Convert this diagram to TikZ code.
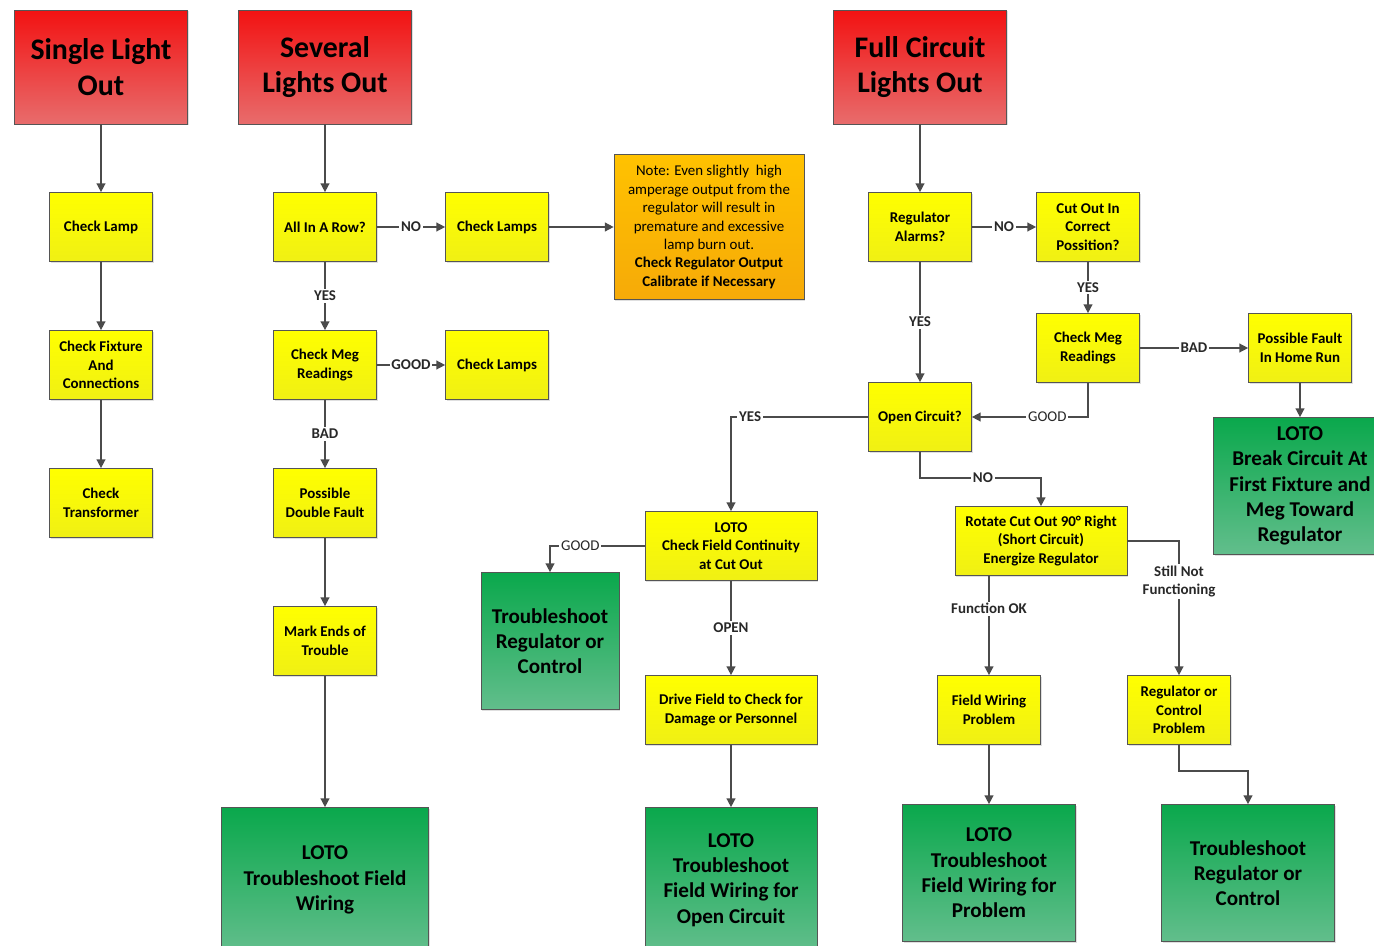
\documentclass[tikz,border=0pt]{standalone}
\usepackage{fontspec}
\setmainfont{Carlito}
\usetikzlibrary{arrows.meta,shadows}

\definecolor{redtop}{RGB}{242,18,18}
\definecolor{redbot}{RGB}{232,108,108}
\definecolor{yeltop}{RGB}{255,255,0}
\definecolor{yelbot}{RGB}{240,240,20}
\definecolor{grntop}{RGB}{10,168,76}
\definecolor{grnbot}{RGB}{98,190,140}
\definecolor{ortop}{RGB}{255,194,0}
\definecolor{orbot}{RGB}{246,170,8}
\definecolor{boxline}{RGB}{85,85,85}
\definecolor{linecol}{RGB}{75,75,75}
\definecolor{lbltext}{RGB}{40,40,40}

\tikzset{
    box/.style={draw=boxline, rectangle, align=center, inner sep=2pt,
        drop shadow={opacity=0.25, shadow xshift=0.7pt, shadow yshift=-0.7pt}},
    rbox/.style={box, top color=redtop, bottom color=redbot, minimum width=3.46cm, minimum height=2.28cm,
        font=\fontsize{17}{20.4}\selectfont\bfseries},
    ybox/.style={box, top color=yeltop, bottom color=yelbot, minimum width=2.06cm, minimum height=1.38cm,
        font=\fontsize{8.5}{10.5}\selectfont\bfseries},
    ywide/.style={ybox, minimum width=3.44cm},
    gbox/.style={box, top color=grntop, bottom color=grnbot, minimum width=3.46cm, minimum height=2.74cm,
        font=\fontsize{12}{14.4}\selectfont\bfseries},
    notebox/.style={box, top color=ortop, bottom color=orbot, minimum width=3.8cm, minimum height=2.9cm,
        font=\fontsize{8.5}{10.5}\selectfont},
    lbl/.style={fill=white, inner sep=1pt, text=lbltext, font=\fontsize{8.5}{10.5}\selectfont\bfseries},
    lblthin/.style={lbl, font=\fontsize{8.5}{10.5}\selectfont},
    arr/.style={draw=linecol, line width=0.85pt, -{Triangle[length=5pt,width=5pt]}},
}

\begin{document}
                \begin{tikzpicture}[x=0.02cm, y=-0.02cm]
                    \useasboundingbox (0,0) rectangle (1374,946);
                    \clip (0,0) rectangle (1374,946);
                    \fill[white] (0,0) rectangle (1374,946);

                    \node[rbox] (single) at (101,67) {Single Light\\Out};
                    \node[rbox] (several) at (325,67) {Several\\Lights Out};
                    \node[rbox] (full) at (920,67) {Full Circuit\\Lights Out};

                    \node[ybox] (lamp) at (101,227) {Check Lamp};
                    \node[ybox] (fixture) at (101,365) {Check Fixture\\And\\Connections};
                    \node[ybox] (transf) at (101,503) {Check\\Transformer};

                    \node[ybox] (row) at (325,227) {All In A Row?};
                    \node[ybox] (meg) at (325,365) {Check Meg\\Readings};
                    \node[ybox] (double) at (325,503) {Possible\\Double Fault};
                    \node[ybox] (ends) at (325,641) {Mark Ends of\\Trouble};
                    \node[gbox, minimum width=4.14cm, minimum height=2.9cm] (fieldwiring) at (325,880) {LOTO\\Troubleshoot Field\\Wiring};

                    \node[ybox] (lamps) at (497,227) {Check Lamps};
                    \node[ybox] (lamps2) at (497,365) {Check Lamps};
                    \node[notebox] (note) at (709,227) {Note: Even slightly\ \ high\\amperage output from the\\regulator will result in\\premature and excessive\\lamp burn out.\\\textbf{Check Regulator Output}\\\textbf{Calibrate if Necessary}};

                    \node[ybox] (alarms) at (920,227) {Regulator\\Alarms?};
                    \node[ybox] (cutout) at (1088,227) {Cut Out In\\Correct\\Possition?};
                    \node[ybox] (meg2) at (1088,348) {Check Meg\\Readings};
                    \node[ybox] (homerun) at (1300,348) {Possible Fault\\In Home Run};
                    \node[gbox] (breakc) at (1300,486) {LOTO\\Break Circuit At\\First Fixture and\\Meg Toward\\Regulator};

                    \node[ybox] (open) at (920,417) {Open Circuit?};
                    \node[ywide] (cont) at (731,546) {LOTO\\Check Field Continuity\\at Cut Out};
                    \node[gbox, minimum width=2.76cm] (regctl) at (550,641) {Troubleshoot\\Regulator or\\Control};
                    \node[ywide] (drive) at (731,710) {Drive Field to Check for\\Damage or Personnel};
                    \node[gbox, minimum width=3.44cm, minimum height=2.9cm] (opencirc) at (731,880) {LOTO\\Troubleshoot\\Field Wiring for\\Open Circuit};

                    \node[ywide] (rotate) at (1041,541) {Rotate Cut Out 90° Right\\(Short Circuit)\\Energize Regulator};
                    \node[ybox] (fwprob) at (989,710) {Field Wiring\\Problem};
                    \node[ybox] (rcprob) at (1179,710) {Regulator or\\Control\\Problem};
                    \node[gbox] (fwtrouble) at (989,873) {LOTO\\Troubleshoot\\Field Wiring for\\Problem};
                    \node[gbox] (rctrouble) at (1248,873) {Troubleshoot\\Regulator or\\Control};

                    \draw[arr] (single) -- (lamp);
                    \draw[arr] (lamp) -- (fixture);
                    \draw[arr] (fixture) -- (transf);

                    \draw[arr] (several) -- (row);
                    \draw[arr] (row) -- node[lbl] {NO} (lamps);
                    \draw[arr] (row) -- node[lbl] {YES} (meg);
                    \draw[arr] (meg) -- node[lbl] {GOOD} (lamps2);
                    \draw[arr] (meg) -- node[lbl] {BAD} (double);
                    \draw[arr] (double) -- (ends);
                    \draw[arr] (ends) -- (fieldwiring);
                    \draw[arr] (lamps) -- (note);

                    \draw[arr] (full) -- (alarms);
                    \draw[arr] (alarms) -- node[lbl] {NO} (cutout);
                    \draw[arr] (alarms) -- node[lbl] {YES} (open);
                    \draw[arr] (cutout) -- node[lbl] {YES} (meg2);
                    \draw[arr] (meg2) -- node[lbl] {BAD} (homerun);
                    \draw[arr] (homerun) -- (breakc);
                    \draw[arr] (meg2) |- node[lblthin, pos=0.675] {GOOD} (open);
                    \draw[arr] (open) -| node[lbl, pos=0.43] {YES} (cont);
                    \draw[arr] (open.south) -- ++(0,26) -| node[lbl, pos=0.26] {NO} (rotate);

                    \draw[arr] (cont) -| node[lblthin, pos=0.34] {GOOD} (regctl);
                    \draw[arr] (cont) -- node[lbl] {OPEN} (drive);
                    \draw[arr] (drive) -- (opencirc);

                    \draw[arr] (fwprob.north |- rotate.south) -- node[lbl, pos=0.33] {Function OK} (fwprob);
                    \draw[arr] (rotate) -| node[lbl, pos=0.65, align=center] {Still Not\\Functioning} (rcprob);
                    \draw[arr] (fwprob) -- (fwtrouble);
                    \draw[arr] (rcprob.south) -- ++(0,26) -| (rctrouble);
                \end{tikzpicture}
\end{document}
